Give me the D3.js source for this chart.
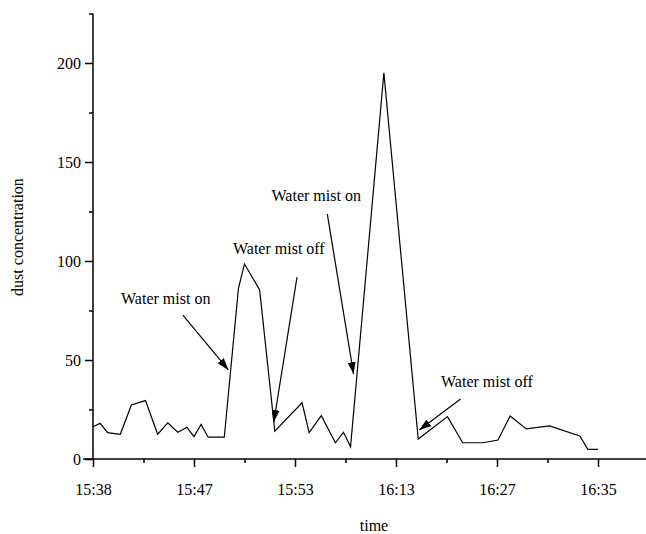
<!DOCTYPE html>
<html>
<head>
<meta charset="utf-8">
<script src="https://cdn.jsdelivr.net/npm/d3@7"></script>
<style>
    body { margin: 0; background: #fff; }
    text { font-family: "Liberation Serif", "Times New Roman", serif; fill: #000; }
</style>
</head>
<body>
<div id="chart"></div>
<script>
// x is in tick units (0 = first label, 5 = last label)
const timeLabels = ["15:38", "15:47", "15:53", "16:13", "16:27", "16:35"];
const xPos = [0, 0.07, 0.145, 0.27, 0.38, 0.52, 0.64, 0.74, 0.84, 0.93, 1.0, 1.07, 1.14, 1.30,
    1.44, 1.50, 1.65, 1.80, 2.07, 2.14, 2.26, 2.40, 2.48, 2.55, 2.88, 3.22, 3.51, 3.66, 3.86,
    4.01, 4.13, 4.29, 4.52, 4.82, 4.90, 5.0];
const dust = [16.3, 18.0, 13.3, 12.5, 27.3, 29.5, 12.5, 18.3, 13.5, 16.0, 11.3, 17.5, 11.0, 11.0,
    86.2, 98.5, 85.4, 14.1, 28.4, 13.3, 21.9, 8.2, 13.5, 6.2, 195, 10.1, 21.4, 8.2, 8.2,
    9.6, 21.7, 15.2, 16.7, 11.6, 4.9, 4.9];
const yMajor = [0, 50, 100, 150, 200];
const yMinor = [25, 75, 125, 175, 225];
const xMajor = [0, 1, 2, 3, 4, 5];
const xMinor = [0.5, 1.5, 2.5, 3.5, 4.5];

// annotations: text point and arrow start/end, in data units
const notes = [
    { text: "Water mist on",  tx: 0.72, ty: 78.3,  x1: 0.89, y1: 72.7,  x2: 1.34, y2: 45.0 },
    { text: "Water mist off", tx: 1.84, ty: 103.5, x1: 2.02, y1: 91.9,  x2: 1.79, y2: 18.7 },
    { text: "Water mist on",  tx: 2.21, ty: 130.5, x1: 2.32, y1: 123.7, x2: 2.58, y2: 42.9 },
    { text: "Water mist off", tx: 3.90, ty: 36.4,  x1: 3.64, y1: 30.3,  x2: 3.23, y2: 14.6 }
];

const width = 646, height = 534;

const svg = d3.select("#chart")
    .append("svg")
    .attr("width", width)
    .attr("height", height);

const x = d3.scaleLinear()
    .domain([0, 5])
    .range([93, 598]);

const y = d3.scaleLinear()
    .domain([0, 225])
    .range([459, 13.5]);

// arrowhead
svg.append("defs").append("marker")
    .attr("id", "head")
    .attr("viewBox", "0 0 12 8")
    .attr("refX", 12)
    .attr("refY", 4)
    .attr("markerWidth", 12)
    .attr("markerHeight", 8)
    .attr("markerUnits", "userSpaceOnUse")
    .attr("orient", "auto")
    .append("path")
    .attr("d", "M0,0L12,4L0,8Z")
    .attr("fill", "#000");

// x axis
const xAxis = svg.append("g")
    .attr("transform", "translate(0," + y(0) + ")")
    .call(d3.axisBottom(x).tickValues(xMajor).tickFormat(i => timeLabels[i]).tickSize(8).tickPadding(17));
xAxis.select(".domain").remove();
const xAxisMinor = svg.append("g")
    .attr("transform", "translate(0," + y(0) + ")")
    .call(d3.axisBottom(x).tickValues(xMinor).tickFormat("").tickSize(4));
xAxisMinor.select(".domain").remove();

svg.append("line")
    .attr("x1", x(0) - 10)
    .attr("x2", width)
    .attr("y1", y(0))
    .attr("y2", y(0))
    .attr("stroke", "#000")
    .attr("stroke-width", 1.5);

// y axis
const yAxis = svg.append("g")
    .attr("transform", "translate(" + x(0) + ",0)")
    .call(d3.axisLeft(y).tickValues(yMajor).tickSize(8).tickPadding(4));
yAxis.select(".domain").remove();
const yAxisMinor = svg.append("g")
    .attr("transform", "translate(" + x(0) + ",0)")
    .call(d3.axisLeft(y).tickValues(yMinor).tickFormat("").tickSize(4));
yAxisMinor.select(".domain").remove();

svg.append("line")
    .attr("x1", x(0))
    .attr("x2", x(0))
    .attr("y1", y(0))
    .attr("y2", y(225))
    .attr("stroke", "#000")
    .attr("stroke-width", 1.5);

svg.selectAll(".tick line").attr("stroke", "#000").attr("stroke-width", 1.5);
svg.selectAll(".tick text")
    .style("font-family", "'Liberation Serif', serif")
    .style("font-size", "16px")
    .attr("fill", "#000");

// axis titles
svg.append("text")
    .attr("x", 374)
    .attr("y", 531)
    .style("text-anchor", "middle")
    .style("font-size", "16px")
    .text("time");

svg.append("text")
    .attr("transform", "translate(23," + 237 + ") rotate(-90)")
    .style("text-anchor", "middle")
    .style("font-size", "16px")
    .text("dust concentration");

// data line
const line = d3.line()
    .x((d, i) => x(xPos[i]))
    .y(d => y(d));

svg.append("path")
    .datum(dust)
    .attr("d", line)
    .attr("fill", "none")
    .attr("stroke", "#000")
    .attr("stroke-width", 1.2)
    .attr("stroke-linejoin", "miter");

// annotations
svg.append("g")
    .selectAll("line")
    .data(notes)
    .enter()
    .append("line")
    .attr("x1", d => x(d.x1))
    .attr("y1", d => y(d.y1))
    .attr("x2", d => x(d.x2))
    .attr("y2", d => y(d.y2))
    .attr("stroke", "#000")
    .attr("stroke-width", 1.2)
    .attr("marker-end", "url(#head)");

svg.append("g")
    .selectAll("text")
    .data(notes)
    .enter()
    .append("text")
    .attr("x", d => x(d.tx))
    .attr("y", d => y(d.ty))
    .style("text-anchor", "middle")
    .style("font-size", "16px")
    .text(d => d.text);
</script>
</body>
</html>
